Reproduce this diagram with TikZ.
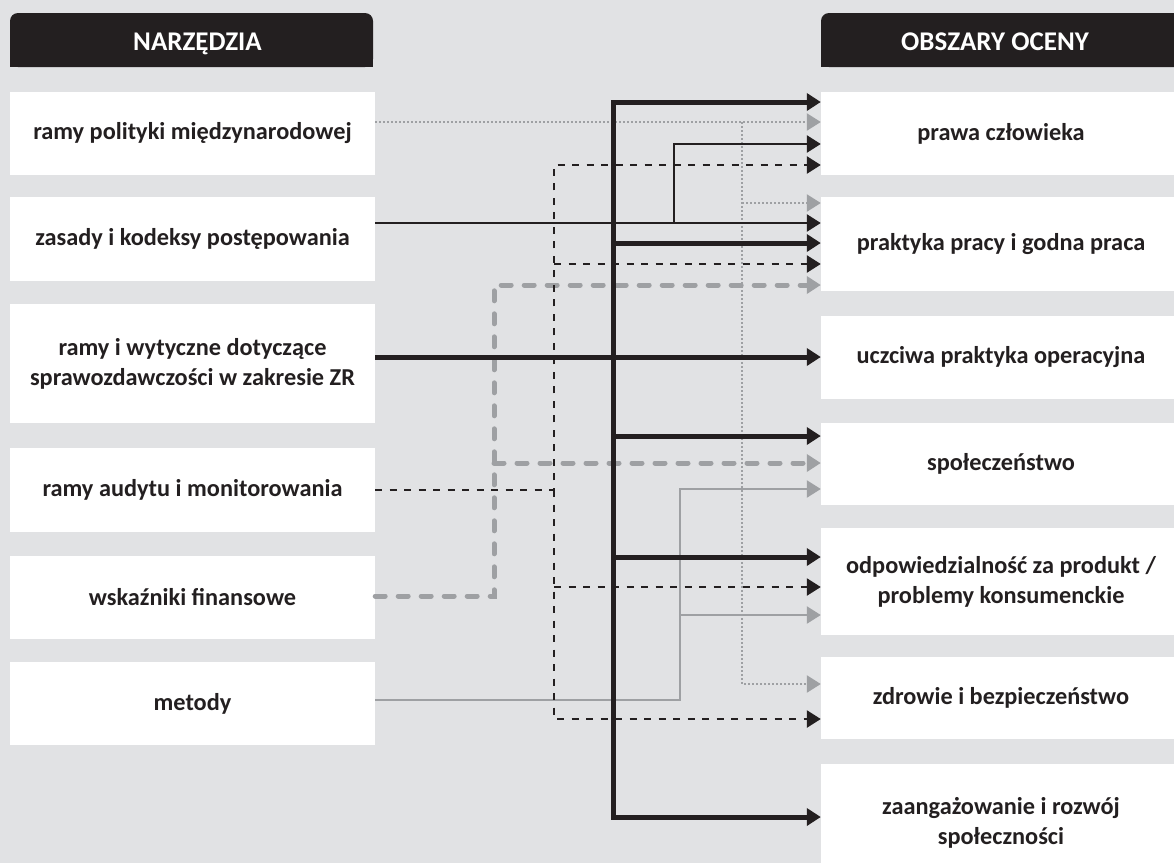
\documentclass[tikz,border=0pt]{standalone}
\usepackage{fontspec}
\setmainfont{Carlito}
\usetikzlibrary{arrows.meta}
\definecolor{bg}{RGB}{225,226,228}
\definecolor{ink}{HTML}{231F20}
\definecolor{mid}{RGB}{158,160,163}
\tikzset{
  >={Triangle[length=14pt,width=17pt]},
  boxfont/.style={font=\fontsize{24.3}{30}\selectfont\bfseries},
  lbox/.style={fill=white, minimum width=365pt, inner sep=0pt, align=center, text=ink, boxfont},
  rbox/.style={fill=white, minimum width=360pt, inner sep=0pt, align=center, text=ink, boxfont},
  hdrtext/.style={text=white, inner sep=0pt, font=\fontsize{27}{30}\selectfont\bfseries},
  hdrfill/.style={fill=ink},
  wireheavy/.style={draw=ink, line width=5pt, ->},
  wirethin/.style={draw=ink, line width=2.6pt, ->},
  wiredash/.style={draw=ink, line width=2.6pt, dash pattern=on 7pt off 7.5pt, ->},
  wiredot/.style={draw=mid, line width=2.4pt, dash pattern=on 2pt off 2pt, ->},
  wiregdash/.style={draw=mid, line width=5pt, line cap=round, dash pattern=on 10pt off 13pt, ->},
  wiregray/.style={draw=mid, line width=2.4pt, ->},
}
\begin{document}
\begin{tikzpicture}[x=1pt,y=-1pt]
\useasboundingbox (0,0) rectangle (1174,863);
\clip (0,0) rectangle (1174,863);
\fill[bg] (0,0) rectangle (1174,863);

% headers
\fill[hdrfill, rounded corners=8pt] (10,13) rectangle (373,67);
\fill[hdrfill] (10,40) rectangle (373,67);
\node[hdrtext, anchor=base] (H1) at (197.5,50) {NARZĘDZIA};
\fill[hdrfill, rounded corners=8pt] (821,13) rectangle (1190,67);
\fill[hdrfill] (821,40) rectangle (1190,67);
\node[hdrtext, anchor=base] (H2) at (995,50) {OBSZARY OCENY};

% tools
\node[lbox, minimum height=83pt]  (L1) at (192.5,133.5) {ramy polityki międzynarodowej};
\node[lbox, minimum height=84pt]  (L2) at (192.5,239)   {zasady i kodeksy postępowania};
\node[lbox, minimum height=119pt] (L3) at (192.5,363.5) {ramy i wytyczne dotyczące\\sprawozdawczości w zakresie ZR};
\node[lbox, minimum height=84pt]  (L4) at (192.5,490)   {ramy audytu i monitorowania};
\node[lbox, minimum height=83pt]  (L5) at (192.5,597.5) {wskaźniki finansowe};
\node[lbox, minimum height=83pt]  (L6) at (192.5,703.5) {metody};

% assessment areas
\node[rbox, minimum height=83pt]  (R1) at (1001,133.5) {prawa człowieka};
\node[rbox, minimum height=94pt]  (R2) at (1001,244)   {praktyka pracy i godna praca};
\node[rbox, minimum height=83pt]  (R3) at (1001,357.5) {uczciwa praktyka operacyjna};
\node[rbox, minimum height=82pt]  (R4) at (1001,464)   {społeczeństwo};
\node[rbox, minimum height=107pt] (R5) at (1001,581.5) {odpowiedzialność za produkt /\\problemy konsumenckie};
\node[rbox, minimum height=82pt]  (R6) at (1001,698)   {zdrowie i bezpieczeństwo};
\node[rbox, minimum height=118pt] (R7) at (1001,823)   {zaangażowanie i rozwój\\społeczności};

% connector levels
\foreach \y in {102,122,144,165,203,223,243,264,285,357,436,463,489,490,557,587,596,615,684,700,719,817}
  \coordinate (h\y) at (0,\y);
\foreach \x in {494,554,613,674,680,742}
  \coordinate (v\x) at (\x,0);

% policy frameworks (dotted)
\draw[wiredot] (L1.east |- h122) -- (R1.west |- h122);
\draw[wiredot] (v742 |- h122) |- (R6.west |- h684);
\draw[wiredot] (v742 |- h203) -- (R2.west |- h203);

% financial indicators (heavy dashed)
\draw[wiregdash] (L5.east |- h596) -| (v494 |- h285) -- (R2.west |- h285);
\draw[wiregdash] (v494 |- h463) -- (R4.west |- h463);

% methods (gray)
\draw[wiregray] (L6.east |- h700) -| (v680 |- h489) -- (R4.west |- h489);
\draw[wiregray] (v680 |- h615) -- (R5.west |- h615);

% audit and monitoring (dashed)
\draw[wiredash] (L4.east |- h490) -| (v554 |- h165) -- (R1.west |- h165);
\draw[wiredash] (v554 |- h490) |- (R6.west |- h719);
\draw[wiredash] (v554 |- h264) -- (R2.west |- h264);
\draw[wiredash] (v554 |- h587) -- (R5.west |- h587);

% principles and codes
\draw[wirethin] (L2.east |- h223) -- (R2.west |- h223);
\draw[wirethin] (v674 |- h223) |- (R1.west |- h144);

% reporting frameworks (heavy)
\draw[wireheavy] (L3.east |- h357) -- (R3.west |- h357);
\draw[wireheavy] (v613 |- h357) |- (R1.west |- h102);
\draw[wireheavy] (v613 |- h357) |- (R7.west |- h817);
\draw[wireheavy] (v613 |- h243) -- (R2.west |- h243);
\draw[wireheavy] (v613 |- h436) -- (R4.west |- h436);
\draw[wireheavy] (v613 |- h557) -- (R5.west |- h557);
\end{tikzpicture}
\end{document}
